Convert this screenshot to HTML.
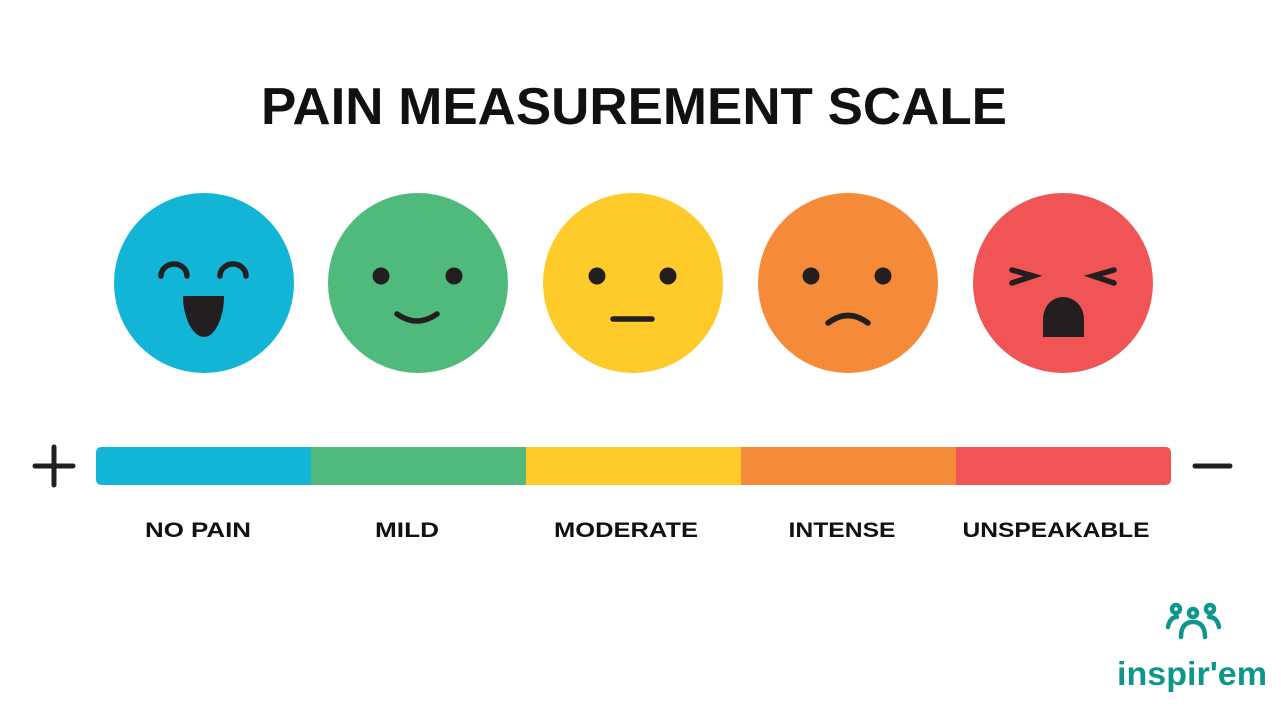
<!DOCTYPE html>
<html><head><style>body{margin:0;background:#fff}svg{display:block}</style></head><body>
<svg width="1281" height="721" viewBox="0 0 1281 721" xmlns="http://www.w3.org/2000/svg">
<rect width="1281" height="721" fill="#fff"/>
<text x="634" y="124" text-anchor="middle" font-family="Liberation Sans, sans-serif" font-weight="bold" font-size="52" textLength="746" lengthAdjust="spacingAndGlyphs" fill="#111">PAIN MEASUREMENT SCALE</text>
<g stroke="#231f20" stroke-linecap="round" fill="none" stroke-width="5.5">
<circle cx="204" cy="283" r="90" fill="#12b5d6" stroke="none"/>
<path d="M161 276 A13 12 0 0 1 187 276 M220 276 A13 12 0 0 1 246 276"/>
<path d="M183 296 L224 296 C224 318 215 337 204 337 C193 337 183 318 183 296Z" fill="#231f20" stroke="none"/>
<circle cx="418" cy="283" r="90" fill="#50ba7d" stroke="none"/>
<circle cx="381" cy="276" r="8.5" fill="#231f20" stroke="none"/>
<circle cx="454" cy="276" r="8.5" fill="#231f20" stroke="none"/>
<path d="M397 314 Q417 328 437 314"/>
<circle cx="633" cy="283" r="90" fill="#fecb2a" stroke="none"/>
<circle cx="597" cy="276" r="8.5" fill="#231f20" stroke="none"/>
<circle cx="668" cy="276" r="8.5" fill="#231f20" stroke="none"/>
<path d="M613 319 L652 319"/>
<circle cx="848" cy="283" r="90" fill="#f58a39" stroke="none"/>
<circle cx="811" cy="276" r="8.5" fill="#231f20" stroke="none"/>
<circle cx="883" cy="276" r="8.5" fill="#231f20" stroke="none"/>
<path d="M828 323 Q848 308 868 323"/>
<circle cx="1063" cy="283" r="90" fill="#f05455" stroke="none"/>
<path d="M1012 270 L1033 276 L1012 283 M1114 270 L1093 276 L1114 283"/>
<path d="M1043 337 L1043 320 C1043 305 1053 297 1063 297 C1073 297 1084 305 1084 320 L1084 337Z" fill="#231f20" stroke="none"/>
</g>
<clipPath id="c"><rect x="96" y="447" width="1075" height="38" rx="5"/></clipPath>
<g clip-path="url(#c)">
<rect x="96" y="447" width="216" height="38" fill="#12b5d6"/>
<rect x="311" y="447" width="216" height="38" fill="#50ba7d"/>
<rect x="526" y="447" width="216" height="38" fill="#fecb2a"/>
<rect x="741" y="447" width="216" height="38" fill="#f58a39"/>
<rect x="956" y="447" width="216" height="38" fill="#f05455"/>
</g>
<g stroke="#231f20" stroke-width="5" stroke-linecap="round">
<path d="M35 466 L73 466 M54 447 L54 485"/>
<path d="M1195 466 L1230 466"/>
</g>
<g font-family="Liberation Sans, sans-serif" font-weight="bold" font-size="21" fill="#111" text-anchor="middle">
<text x="198" y="537" textLength="106" lengthAdjust="spacingAndGlyphs">NO PAIN</text>
<text x="407" y="537" textLength="64" lengthAdjust="spacingAndGlyphs">MILD</text>
<text x="626" y="537" textLength="144" lengthAdjust="spacingAndGlyphs">MODERATE</text>
<text x="842" y="537" textLength="107" lengthAdjust="spacingAndGlyphs">INTENSE</text>
<text x="1056" y="537" textLength="187" lengthAdjust="spacingAndGlyphs">UNSPEAKABLE</text>
</g>
<g fill="none" stroke="#0f968a" stroke-width="4.5" stroke-linecap="round">
<circle cx="1176" cy="609" r="4"/><circle cx="1193" cy="613" r="4"/><circle cx="1210" cy="609" r="4"/>
<path d="M1168 627 Q1170 617 1177 617 M1219 627 Q1217 617 1209 617"/>
<path d="M1181 637 Q1181 622 1193 622 Q1205 622 1205 637"/>
</g>
<text x="1192" y="685" text-anchor="middle" font-family="Liberation Sans, sans-serif" font-weight="bold" font-size="33" textLength="150" lengthAdjust="spacingAndGlyphs" fill="#0f968a">inspir'em</text>
</svg>
</body></html>
